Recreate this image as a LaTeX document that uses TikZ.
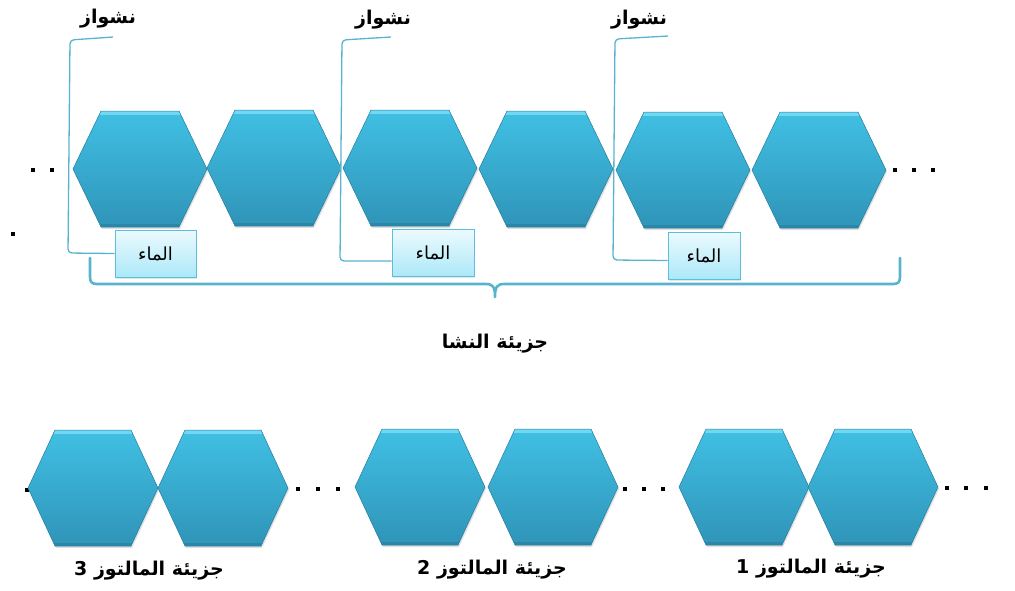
\documentclass[tikz,border=0pt]{standalone}
\usepackage{fontspec}
\newfontfamily\arabicfont[Script=Arabic]{DejaVu Sans}
\TeXXeTstate=1
\usetikzlibrary{shadows}
\definecolor{hextop}{RGB}{64,192,228}
\definecolor{hexbot}{RGB}{47,148,184}
\definecolor{hexhi}{RGB}{112,216,242}
\definecolor{hexlo}{RGB}{36,120,152}
\definecolor{brkc}{RGB}{88,180,206}
\definecolor{boxtop}{RGB}{236,250,254}
\definecolor{boxbot}{RGB}{172,232,248}
\definecolor{boxline}{RGB}{92,190,218}
\tikzset{
  hexslot/.style={rectangle, inner sep=0pt, outer sep=0pt, minimum height=116pt},
  hextopsz/.style={hexslot, minimum width=134pt},
  hexbotsz/.style={hexslot, minimum width=130pt},
  hexpaint/.style={top color=hextop, bottom color=hexbot, draw=hexbot!85!black, line width=0.5pt,
    drop shadow={opacity=0.25, shadow xshift=1pt, shadow yshift=-2pt},
    path picture={
      \fill[hexhi] (path picture bounding box.north west) rectangle ([yshift=-4pt]path picture bounding box.north east);
      \fill[hexlo,opacity=0.45] (path picture bounding box.south west) rectangle ([yshift=3pt]path picture bounding box.south east);}},
  lbl/.style={font=\arabicfont\bfseries\fontsize{19}{22}\selectfont, inner sep=1pt},
  boxlbl/.style={font=\arabicfont\fontsize{18}{21}\selectfont},
  waterbox/.style={rectangle, draw=boxline, line width=1pt, top color=boxtop, bottom color=boxbot,
    minimum height=47pt, inner sep=0pt, boxlbl, drop shadow={opacity=0.2, shadow xshift=1pt, shadow yshift=-1.5pt}},
  brk/.style={draw=brkc, line width=1.3pt, rounded corners=4pt},
  bigbrace/.style={draw=brkc, line width=2.6pt, line cap=round, line join=round},
  dotsq/.style={rectangle, fill=black, minimum size=4.5pt, inner sep=0pt}
}
\newcommand\hexpaintat[2]{\path[hexpaint] (#1.west) -- ([xshift=#2]#1.north west) -- ([xshift=-#2]#1.north east) -- (#1.east) -- ([xshift=-#2]#1.south east) -- ([xshift=#2]#1.south west) -- cycle;}
\begin{document}
\begin{tikzpicture}[x=1pt,y=-1pt]
\useasboundingbox (0,0) rectangle (1015,590);
% dots
\node[dotsq] (d1) at (33,170) {};
\node[dotsq] (d2) at (52,170) {};
\node[dotsq] (d3) at (13,234) {};
\node[dotsq] (d4) at (895,170) {};
\node[dotsq] (d5) at (914,170) {};
\node[dotsq] (d6) at (933,170) {};
\node[dotsq] (e0) at (27,490) {};
\node[dotsq] (e1) at (298,489) {};
\node[dotsq] (e2) at (318,489) {};
\node[dotsq] (e3) at (338,489) {};
\node[dotsq] (e4) at (625,489) {};
\node[dotsq] (e5) at (644,489) {};
\node[dotsq] (e6) at (663,489) {};
\node[dotsq] (e7) at (947,488) {};
\node[dotsq] (e8) at (966,488) {};
\node[dotsq] (e9) at (986,488) {};
% top hexagons
\node[hextopsz] (t1) at (140,169) {};
\node[hextopsz] (t2) at (274,168) {};
\node[hextopsz] (t3) at (410,168) {};
\node[hextopsz] (t4) at (546,169) {};
\node[hextopsz] (t5) at (683,170) {};
\node[hextopsz] (t6) at (819,170) {};
\foreach \h in {t1,t2,t3,t4,t5,t6}{\hexpaintat{\h}{28pt}}
% bottom hexagons
\node[hexbotsz] (b1) at (93,488) {};
\node[hexbotsz] (b2) at (223,488) {};
\node[hexbotsz] (b3) at (420,487) {};
\node[hexbotsz] (b4) at (553,487) {};
\node[hexbotsz] (b5) at (744,487) {};
\node[hexbotsz] (b6) at (873,487) {};
\foreach \h in {b1,b2,b3,b4,b5,b6}{\hexpaintat{\h}{27pt}}
% labels
\node[lbl] (n1) at (108,19) {\beginR نشواز\endR};
\node[lbl] (n2) at (383,20) {\beginR نشواز\endR};
\node[lbl] (n3) at (639,20) {\beginR نشواز\endR};
% water boxes
\node[waterbox, minimum width=81pt] (m1) at (155.5,253.5) {\beginR الماء\endR};
\node[waterbox, minimum width=82pt] (m2) at (433,253) {\beginR الماء\endR};
\node[waterbox, minimum width=72pt] (m3) at (704,255.5) {\beginR الماء\endR};
% callout brackets
\coordinate (c1) at (113,37);
\coordinate (c2) at (391,37);
\coordinate (c3) at (668,36);
\draw[brk] (c1) -- (70,40) -- (68,253) -- (m1.west);
\draw[brk] (c2) -- (342,40) -- (340,261) -- ([yshift=-8pt]m2.west);
\draw[brk] (c3) -- (615,39) -- (613,260) -- ([yshift=-5pt]m3.west);
% big brace
\coordinate (bl) at (90,258);
\coordinate (br) at (900,258);
\coordinate (bt) at (495,297);
\draw[bigbrace] (bl) -- (90,277) .. controls (90,282) and (92,284) .. (97,284) -- (486,284)
  .. controls (493,284) and (495,287) .. (bt)
  .. controls (495,287) and (497,284) .. (504,284) -- (893,284)
  .. controls (898,284) and (900,282) .. (900,277) -- (br);
\node[lbl] (starch) at (495,344) {\beginR جزيئة النشا\endR};
% maltose labels
\node[lbl] (l3) at (149,571) {\beginR جزيئة المالتوز 3\endR};
\node[lbl] (l2) at (492,570) {\beginR جزيئة المالتوز 2\endR};
\node[lbl] (l1) at (811,569) {\beginR جزيئة المالتوز 1\endR};
\end{tikzpicture}
\end{document}
